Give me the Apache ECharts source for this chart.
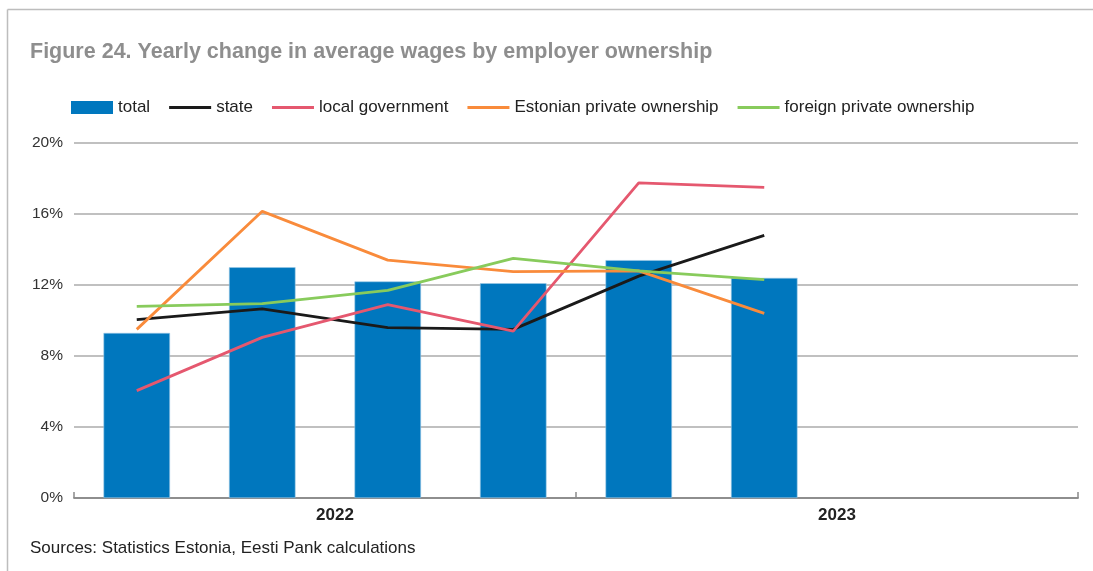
<!DOCTYPE html>
<html>
<head>
<meta charset="utf-8">
<script src="https://cdn.jsdelivr.net/npm/echarts@6/dist/echarts.min.js"></script>
<style>
  html, body { margin: 0; padding: 0; background: #fff; }
  #chart { width: 1093px; height: 571px; }
</style>
</head>
<body>
<div id="chart"></div>
<script>
// Quarterly periods (last two quarters of 2023 not yet available)
const quarters = ['2022 Q1', '2022 Q2', '2022 Q3', '2022 Q4', '2023 Q1', '2023 Q2', '2023 Q3', '2023 Q4'];
const years = ['2022', '2023'];
const yTicks = [0, 4, 8, 12, 16, 20];

// Yearly change in average wages, %
const total           = [9.3, 13.0, 12.2, 12.1, 13.4, 12.4, null, null];
const state           = [10.05, 10.65, 9.6, 9.5, 12.5, 14.8, null, null];
const localGovernment = [6.05, 9.05, 10.9, 9.4, 17.75, 17.5, null, null];
const estonianPrivate = [9.5, 16.15, 13.4, 12.75, 12.8, 10.4, null, null];
const foreignPrivate  = [10.8, 10.95, 11.7, 13.5, 12.8, 12.3, null, null];

const FONT = '"Liberation Sans", Arial, sans-serif';
// Thin horizontal stroke centred in a 42x13 box, used as the legend key for lines
const LINE_ICON = 'path://M0,0 M42,13 M0,5 L42,5 L42,8 L0,8 Z';

const chart = echarts.init(document.getElementById('chart'), null, { renderer: 'canvas' });

const lineSeries = (name, data, color) => ({
  name, type: 'line', data, xAxisIndex: 0,
  symbol: 'none', connectNulls: false,
  lineStyle: { color, width: 2.8 }, itemStyle: { color },
  z: 3
});

chart.setOption({
  animation: false,
  backgroundColor: '#ffffff',
  textStyle: { fontFamily: FONT },
  title: {
    text: 'Figure 24. Yearly change in average wages by employer ownership',
    left: 25, top: 36,
    textStyle: { fontFamily: FONT, fontSize: 21.5, fontWeight: 'bold', color: '#8e8e8e' }
  },
  legend: {
    left: 66, top: 94,
    itemWidth: 42, itemHeight: 13, itemGap: 19,
    textStyle: { fontFamily: FONT, fontSize: 17, color: '#222' },
    data: [
      { name: 'total', icon: 'rect', itemStyle: { borderWidth: 0 } },
      { name: 'state', icon: LINE_ICON, itemStyle: { color: '#1a1a1a' } },
      { name: 'local government', icon: LINE_ICON, itemStyle: { color: '#e5586f' } },
      { name: 'Estonian private ownership', icon: LINE_ICON, itemStyle: { color: '#f98b3b' } },
      { name: 'foreign private ownership', icon: LINE_ICON, itemStyle: { color: '#88cb5c' } }
    ]
  },
  grid: { left: 74, right: 15, top: 143, bottom: 73, containLabel: false },
  xAxis: [
    {
      type: 'category', data: quarters, boundaryGap: true,
      axisLine: { show: true, lineStyle: { color: '#8a8a8a', width: 1.5 } },
      axisTick: { show: false }, axisLabel: { show: false }, splitLine: { show: false }
    },
    {
      type: 'category', data: years, position: 'bottom', boundaryGap: true,
      axisLine: { show: true, lineStyle: { color: '#8a8a8a', width: 1.5 } },
      axisTick: { show: true, inside: true, length: 6, interval: 0, lineStyle: { color: '#8a8a8a', width: 1.5 } },
      axisLabel: { fontFamily: FONT, fontSize: 17, fontWeight: 'bold', color: '#222', margin: 9, padding: [0, 0, 0, 20] },
      splitLine: { show: false }
    }
  ],
  yAxis: {
    type: 'value', min: yTicks[0], max: yTicks[yTicks.length - 1], interval: 4,
    axisLine: { show: false }, axisTick: { show: false },
    axisLabel: { fontFamily: FONT, fontSize: 15.5, color: '#333', margin: 11, formatter: v => v + '%' },
    splitLine: { lineStyle: { color: '#ababab', width: 1.5 } }
  },
  series: [
    {
      name: 'total', type: 'bar', data: total, xAxisIndex: 0,
      barWidth: '53%', itemStyle: { color: '#0077be', borderColor: '#9cc9e6', borderWidth: 0.6 }, z: 2
    },
    lineSeries('state', state, '#1a1a1a'),
    lineSeries('local government', localGovernment, '#e5586f'),
    lineSeries('Estonian private ownership', estonianPrivate, '#f98b3b'),
    lineSeries('foreign private ownership', foreignPrivate, '#88cb5c')
  ],
  graphic: [
    { type: 'line', shape: { x1: 7.5, y1: 9.5, x2: 1093, y2: 9.5 }, style: { stroke: '#bdbdbd', lineWidth: 1.5 }, silent: true },
    { type: 'line', shape: { x1: 7.5, y1: 9.5, x2: 7.5, y2: 571 }, style: { stroke: '#bdbdbd', lineWidth: 1.5 }, silent: true },
    {
      type: 'text', left: 30, top: 540,
      style: { text: 'Sources: Statistics Estonia, Eesti Pank calculations', font: '17px ' + FONT, fill: '#222' }
    }
  ]
});
</script>
</body>
</html>
